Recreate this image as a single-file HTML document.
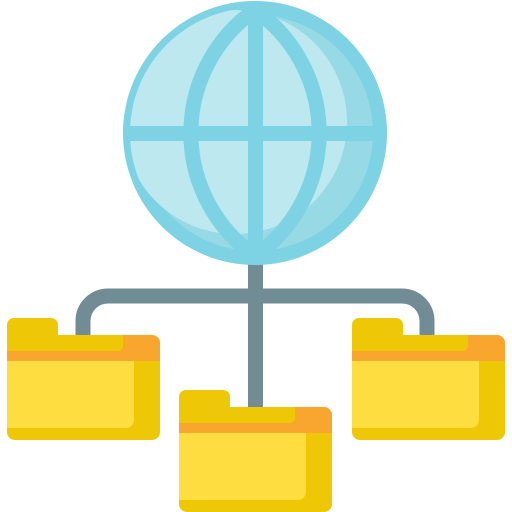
<!DOCTYPE html>
<html><head><style>html,body{margin:0;padding:0;background:#fff}svg{display:block}</style></head>
<body>
<svg width="512" height="512" viewBox="0 0 512 512" xmlns="http://www.w3.org/2000/svg">
<defs>
<clipPath id="gc"><circle cx="255" cy="133" r="125"/></clipPath>
<g id="folder">
  <rect x="7" y="318" width="51" height="30" rx="7" fill="#eec807"/>
  <rect x="7" y="335" width="153" height="105" rx="8" fill="#eec807"/>
  <path d="M123 335 H152 A8 8 0 0 1 160 343 V361 H7 V351 H118 A5 5 0 0 0 123 346 Z" fill="#f9a62f"/>
  <path d="M7 361 H134 V420 A8 8 0 0 1 126 428 H7 Z" fill="#fddd40"/>
</g>
</defs>
<path d="M83 338 V321 A25 25 0 0 1 108 296 H402 A25 25 0 0 1 427 321 V338" fill="none" stroke="#718c95" stroke-width="15"/>
<rect x="248" y="260" width="15" height="150" fill="#718c95"/>
<circle cx="255" cy="133" r="132" fill="#7dd3e3"/>
<circle cx="255" cy="133" r="118" fill="#97dae6"/>
<g clip-path="url(#gc)">
  <circle cx="235" cy="122" r="112" fill="#bde8f0"/>
</g>
<path d="M255 10 A150 150 0 0 0 255 256 A150 150 0 0 0 255 10 Z" fill="none" stroke="#7dd3e3" stroke-width="15" stroke-linejoin="round"/>
<rect x="248" y="5" width="15" height="256" fill="#7dd3e3"/>
<rect x="128" y="126" width="254" height="15" fill="#7dd3e3"/>
<use href="#folder"/>
<use href="#folder" transform="translate(345,0)"/>
<use href="#folder" transform="translate(172,72)"/>
</svg>
</body></html>
